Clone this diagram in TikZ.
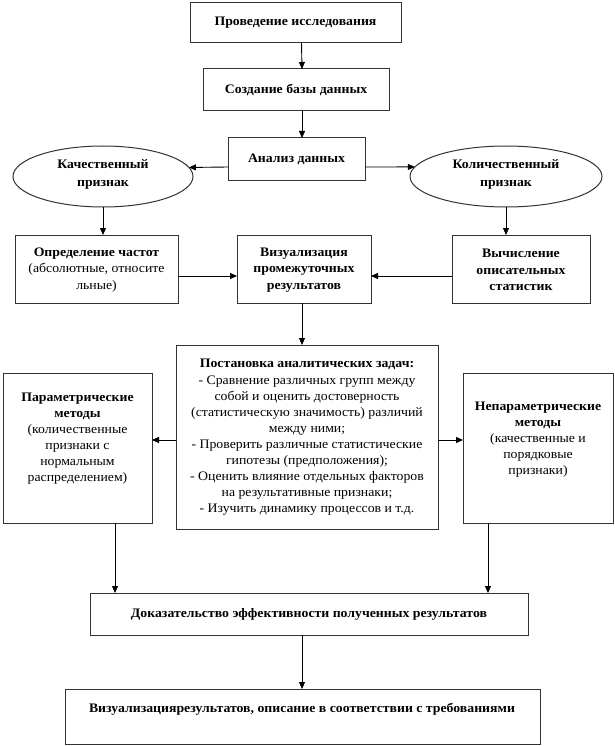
\documentclass[tikz,border=0pt]{standalone}
\usepackage{fontspec}
\setmainfont{Liberation Serif}[FakeStretch=1.06]
\usetikzlibrary{arrows.meta,shapes.geometric}
\newcommand\mybox[5]{% name, x1, y1, x2, y2
  \node[box,minimum width={(#4)-(#2)},minimum height={(#5)-(#3)}] (#1) at ({((#2)+(#4))/2},{((#3)+(#5))/2}) {};}
\begin{document}
\begin{tikzpicture}[x=1pt,y=-1pt,
  box/.style={draw=black!80,line width=1pt,rectangle,inner sep=0pt,outer sep=0pt},
  oval/.style={draw=black!80,line width=1pt,ellipse,inner sep=0pt,outer sep=0pt},
  txt/.style={align=center,inner sep=0pt,font=\fontsize{13}{16}\selectfont},
  arr/.style={draw=black,line width=0.9pt,-{Triangle[length=7pt,width=6pt]}}
]
\useasboundingbox[fill=white] (0,0) rectangle (614,746);

% boxes
\mybox{b1}{190}{3}{401}{43}
\mybox{b2}{203}{69}{389}{111}
\mybox{anal}{228}{138}{365}{180}
\node[oval,minimum width=180,minimum height=61] (ell1) at (103,176.5) {};
\node[oval,minimum width=192,minimum height=61] (ell2) at (506,176.5) {};
\mybox{freq}{15}{235}{178}{303}
\mybox{vis}{237}{235}{371}{303}
\mybox{desc}{452}{235}{590}{303}
\mybox{task}{176}{345}{438}{529}
\mybox{param}{3}{373}{152}{523}
\mybox{nonpar}{463}{373}{613}{523}
\mybox{proof}{90}{593}{528}{635}
\mybox{last}{65}{689}{540}{744}

% texts
\node[txt] (t1) at (b1) {\textbf{Проведение исследования}};
\node[txt] (t2) at (b2) {\textbf{Создание базы данных}};
\node[txt] (t3) at (anal) {\textbf{Анализ данных}};
\node[txt,font=\fontsize{13}{18}\selectfont] (t4) at (103,174) {\textbf{Качественный}\\\textbf{признак}};
\node[txt,font=\fontsize{13}{18}\selectfont] (t5) at (506,174) {\textbf{Количественный}\\\textbf{признак}};
\node[txt,font=\fontsize{13}{16.5}\selectfont] (t6) at (96.5,270) {\textbf{Определение частот}\\(абсолютные, относите\\льные)};
\node[txt,font=\fontsize{13}{16.5}\selectfont] (t7) at (304,270) {\textbf{Визуализация}\\\textbf{промежуточных}\\\textbf{результатов}};
\node[txt,font=\fontsize{13}{16.5}\selectfont] (t8) at (521,270) {\textbf{Вычисление}\\\textbf{описательных}\\\textbf{статистик}};
\node[txt,font=\fontsize{13}{16.1}\selectfont] (t9) at (307,437.5) {\textbf{Постановка аналитических задач:}\\
- Сравнение различных групп между\\
собой и оценить достоверность\\
(статистическую значимость) различий\\
между ними;\\
- Проверить различные статистические\\
гипотезы (предположения);\\
- Оценить влияние отдельных факторов\\
на результативные признаки;\\
- Изучить динамику процессов и т.д.};
\node[txt] (t10) at (77.5,439) {\textbf{Параметрические}\\\textbf{методы}\\(количественные\\признаки с\\нормальным\\распределением)};
\node[txt] (t11) at (538,440) {\textbf{Непараметрические}\\\textbf{методы}\\(качественные и\\порядковые\\признаки)};
\node[txt] (t12) at (proof) {\textbf{Доказательство эффективности полученных результатов}};
\node[txt] (t13) at (302,709) {\textbf{Визуализациярезультатов, описание в соответствии с требованиями}};

% connectors
\draw[arr] ([xshift=6pt]b1.south) -- ([xshift=6pt]b2.north);
\draw[arr] ([xshift=6pt]b2.south) -- ([xshift=6pt]b2.south |- anal.north);
\draw[arr] ([yshift=-8pt]anal.west) -- (ell1.6);
\draw[arr] ([yshift=-8pt]anal.east) -- (ell2.174.4);
\draw[arr] (ell1.south) -- (ell1.south |- freq.north);
\draw[arr] (ell2.south) -- (ell2.south |- desc.north);
\draw[arr] ([yshift=-7pt]freq.east) -- ([yshift=-7pt]vis.west);
\draw[arr] ([yshift=-7pt]desc.west) -- ([yshift=-7pt]vis.east);
\draw[arr] ([xshift=-2pt]vis.south) -- ([xshift=-2pt]vis.south |- task.north);
\draw[arr] ([yshift=-3pt]task.west) -- ([yshift=-3pt]task.west -| param.east);
\draw[arr] ([yshift=-3pt]task.east) -- ([yshift=-3pt]task.east -| nonpar.west);
\draw[arr] ([xshift=37.5pt]param.south) -- ([xshift=37.5pt]param.south |- proof.north);
\draw[arr] ([xshift=-50pt]nonpar.south) -- ([xshift=-50pt]nonpar.south |- proof.north);
\draw[arr] ([xshift=-7pt]proof.south) -- ([xshift=-7pt]proof.south |- last.north);
\end{tikzpicture}
\end{document}
